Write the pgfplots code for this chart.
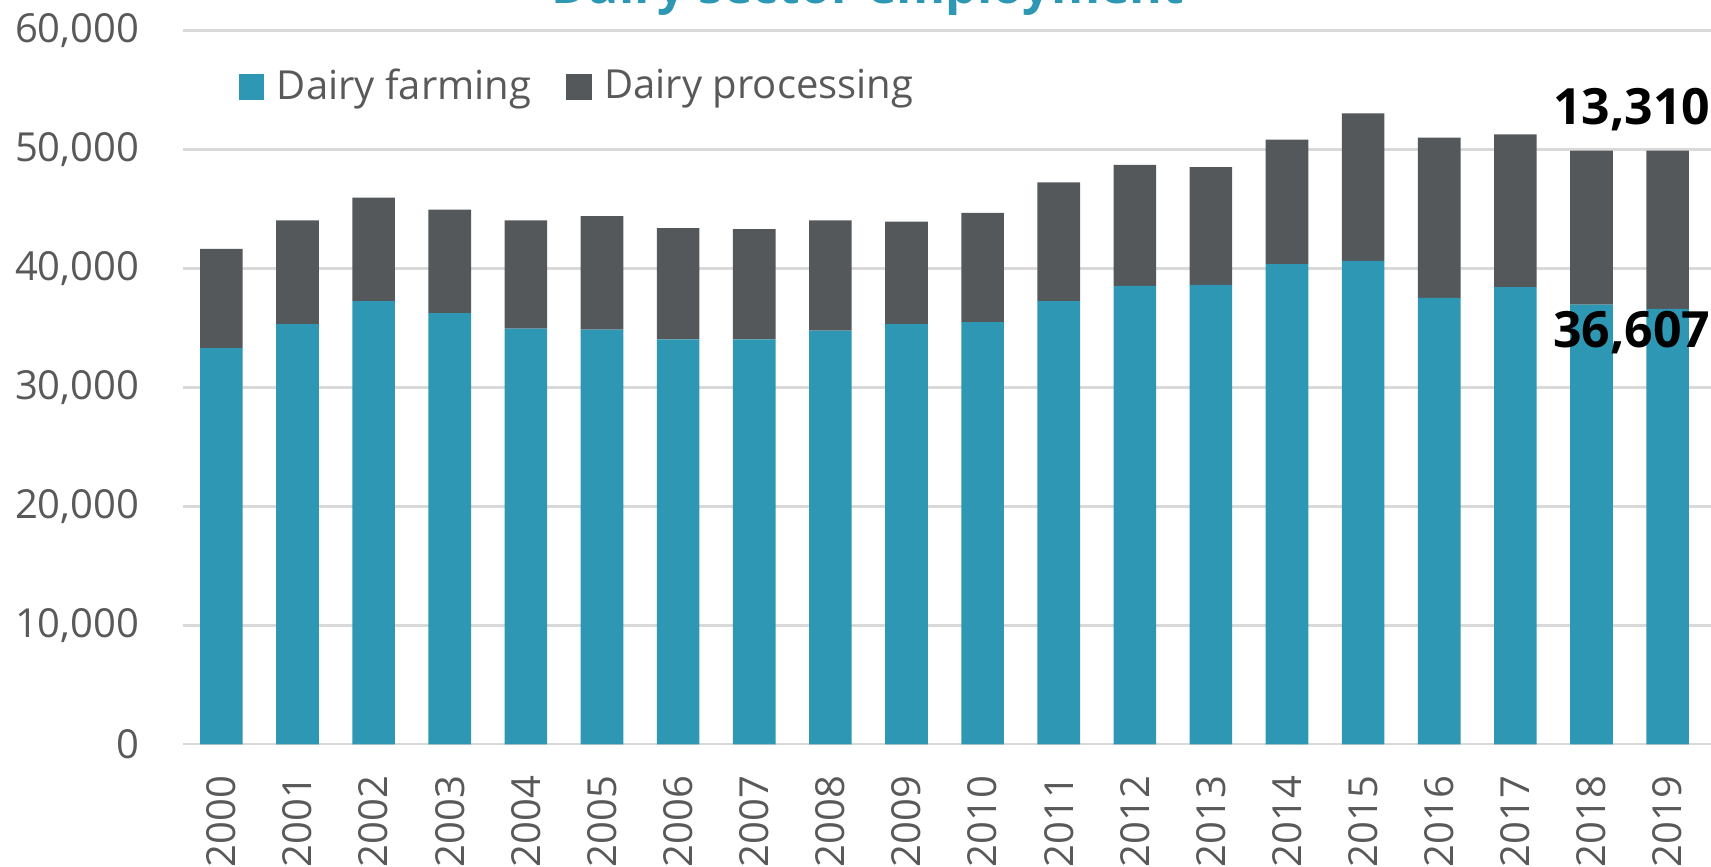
\documentclass[border=0pt]{standalone}
\usepackage{fontspec}
\setmainfont{Open Sans}
\usepackage{pgfplots}
\pgfplotsset{compat=1.18}
\definecolor{farm}{HTML}{2E97B3}
\definecolor{proc}{HTML}{55585B}
\definecolor{tickc}{HTML}{595959}
\definecolor{gridc}{HTML}{D9D9D9}
\begin{document}
\begin{tikzpicture}
\begin{axis}[name=ax, scale only axis, width=381.9pt, height=178.4pt,
  ybar stacked, bar width=10.65pt,
  xmin=-0.502, xmax=19.57, ymin=0, ymax=60000,
  xtick={0,1,...,19},
  xticklabels={2000,2001,2002,2003,2004,2005,2006,2007,2008,2009,2010,2011,2012,2013,2014,2015,2016,2017,2018,2019},
  ytick={0,10000,...,60000},
  /pgf/number format/.cd, 1000 sep={,}, assume math mode=true, /pgfplots/.cd,
  scaled y ticks=false,
  axis line style={draw=none},
  major tick style={draw=none},
  ymajorgrids, grid style={color=gridc, line width=0.6pt},
  tick label style={font=\fontsize{10}{12}\selectfont, text=tickc},
  yticklabel style={inner sep=0pt, anchor=east, xshift=-10.8pt},
  xticklabel style={rotate=90, anchor=east, inner sep=0pt, xshift=-7.7pt},
  clip=false,
  legend image code/.code={\fill[#1] (0pt,-3.15pt) rectangle (6.3pt,3.15pt);},
  legend style={at={(0.0359,0.921)}, anchor=west, draw=none, fill=none,
    inner xsep=0pt, inner ysep=0pt, legend columns=2,
    font=\fontsize{10}{12}\selectfont, text=tickc,
    nodes={inner sep=0pt},
    /tikz/every odd column/.append style={column sep=3.2pt},
    /tikz/every even column/.append style={column sep=8.8pt}},
  legend cell align=left,
]
\addplot[fill=farm, draw=none] coordinates {
(0,33300) (1,35320) (2,37250) (3,36240) (4,34950) (5,34860) (6,34040) (7,34040) (8,34770) (9,35320)
(10,35500) (11,37250) (12,38530) (13,38620) (14,40370) (15,40640) (16,37520) (17,38440) (18,36970) (19,36607)};
\addplot[fill=proc, draw=none] coordinates {
(0,8350) (1,8720) (2,8710) (3,8710) (4,9090) (5,9540) (6,9360) (7,9260) (8,9270) (9,8630)
(10,9180) (11,10000) (12,10190) (13,9910) (14,10460) (15,12390) (16,13490) (17,12840) (18,12940) (19,13310)};
\legend{Dairy farming, Dairy processing}
\coordinate (labA) at (axis cs:18.53,53324);
\coordinate (labB) at (axis cs:18.53,34574);
\end{axis}
\node[font=\bfseries\fontsize{12.5}{15}\selectfont, text=black] at (labA) {13,310};
\node[font=\bfseries\fontsize{12.5}{15}\selectfont, text=black] at (labB) {36,607};
\node[font=\bfseries\fontsize{12.5}{15}\selectfont, text=farm, anchor=base] at ([shift={(171.2pt,6.65pt)}]ax.north west) {Dairy sector employment};
\pgfresetboundingbox
\path[use as bounding box] ([shift={(-45.8pt,-30.45pt)}]ax.south west) rectangle ([shift={(0pt,7.65pt)}]ax.north east);
\end{tikzpicture}
\end{document}
